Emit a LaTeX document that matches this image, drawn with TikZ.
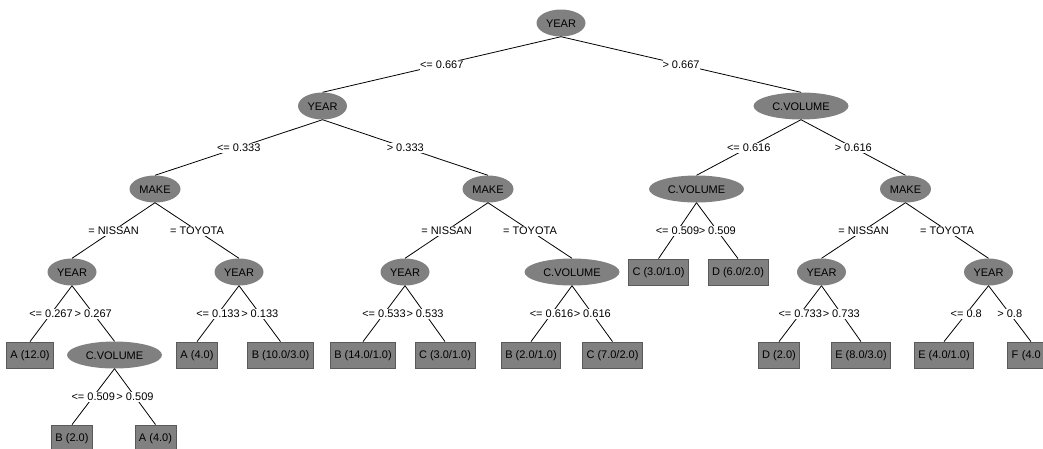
\documentclass[tikz,border=0pt]{standalone}
\usepackage{fontspec}
\setmainfont{Liberation Sans}
\usetikzlibrary{shapes.geometric}
\definecolor{nodegray}{RGB}{128,128,128}
\definecolor{boxedge}{RGB}{90,90,90}
\tikzset{
  ell/.style={ellipse, fill=nodegray, inner sep=0pt, minimum height=27pt, text height=8pt, text depth=0pt},
  yr/.style={ell, minimum width=49pt},
  mk/.style={ell, minimum width=51pt},
  cv/.style={ell, minimum width=95pt},
  leaf/.style={rectangle, fill=nodegray, draw=boxedge, line width=0.8pt, inner xsep=4pt, inner ysep=0pt, minimum height=26pt, text height=8pt, text depth=2pt},
  lbl/.style={fill=white, inner xsep=0pt, inner ysep=0.5pt, text height=8pt, text depth=1pt},
  edge/.style={draw=black, line width=0.8pt}
}
\begin{document}
\begin{tikzpicture}[x=1pt, y=-1pt, font=\fontsize{11}{13}\selectfont]
\useasboundingbox (0,0) rectangle (1043,448);
% level 0-1
\node[yr] (r) at (561,23) {YEAR};
\node[yr] (a) at (322.5,106) {YEAR};
\node[cv] (b) at (801,106) {C.VOLUME};
% level 2
\node[mk] (aa) at (155,189) {MAKE};
\node[mk] (ab) at (488,189) {MAKE};
\node[cv] (ba) at (696.5,189) {C.VOLUME};
\node[mk] (bb) at (905.5,189) {MAKE};
% level 3
\node[yr] (aaa) at (72,272) {YEAR};
\node[yr] (aab) at (239,272) {YEAR};
\node[yr] (aba) at (405,272) {YEAR};
\node[cv] (abb) at (572,272) {C.VOLUME};
\node[leaf] (baa) at (658.5,272) {C (3.0/1.0)};
\node[leaf] (bab) at (738,272) {D (6.0/2.0)};
\node[yr] (bba) at (821.5,272) {YEAR};
\node[yr] (bbb) at (988.5,272) {YEAR};
% level 4
\node[leaf] (aaaa) at (30,355) {A (12.0)};
\node[cv] (aaab) at (114.5,355) {C.VOLUME};
\node[leaf] (aaba) at (197,355) {A (4.0)};
\node[leaf] (aabb) at (280.5,355) {B (10.0/3.0)};
\node[leaf] (abaa) at (363,355) {B (14.0/1.0)};
\node[leaf] (abab) at (445,355) {C (3.0/1.0)};
\node[leaf] (abba) at (531,355) {B (2.0/1.0)};
\node[leaf] (abbb) at (612.5,355) {C (7.0/2.0)};
\node[leaf] (bbaa) at (779,355) {D (2.0)};
\node[leaf] (bbab) at (861,355) {E (8.0/3.0)};
\node[leaf] (bbba) at (944,355) {E (4.0/1.0)};
\node[leaf, text width=39pt, align=left] (bbbb) at (1031,355) {F (4.0};
% level 5
\node[leaf] (aaaba) at (72,438) {B (2.0)};
\node[leaf] (aaabb) at (155.5,438) {A (4.0)};
% edges
\path[edge] (r.south) -- (a.north) node[lbl, midway] {<= 0.667};
\path[edge] (r.south) -- (b.north) node[lbl, midway] {> 0.667};
\path[edge] (a.south) -- (aa.north) node[lbl, midway] {<= 0.333};
\path[edge] (a.south) -- (ab.north) node[lbl, midway] {> 0.333};
\path[edge] (b.south) -- (ba.north) node[lbl, midway] {<= 0.616};
\path[edge] (b.south) -- (bb.north) node[lbl, midway] {> 0.616};
\path[edge] (aa.south) -- (aaa.north) node[lbl, midway] {= NISSAN};
\path[edge] (aa.south) -- (aab.north) node[lbl, midway] {= TOYOTA};
\path[edge] (ab.south) -- (aba.north) node[lbl, midway] {= NISSAN};
\path[edge] (ab.south) -- (abb.north) node[lbl, midway] {= TOYOTA};
\path[edge] (ba.south) -- (baa.north) node[lbl, midway] {<= 0.509};
\path[edge] (ba.south) -- (bab.north) node[lbl, midway] {> 0.509};
\path[edge] (bb.south) -- (bba.north) node[lbl, midway] {= NISSAN};
\path[edge] (bb.south) -- (bbb.north) node[lbl, midway] {= TOYOTA};
\path[edge] (aaa.south) -- (aaaa.north) node[lbl, midway] {<= 0.267};
\path[edge] (aaa.south) -- (aaab.north) node[lbl, midway] {> 0.267};
\path[edge] (aab.south) -- (aaba.north) node[lbl, midway] {<= 0.133};
\path[edge] (aab.south) -- (aabb.north) node[lbl, midway] {> 0.133};
\path[edge] (aba.south) -- (abaa.north) node[lbl, midway] {<= 0.533};
\path[edge] (aba.south) -- (abab.north) node[lbl, midway] {> 0.533};
\path[edge] (abb.south) -- (abba.north) node[lbl, midway] {<= 0.616};
\path[edge] (abb.south) -- (abbb.north) node[lbl, midway] {> 0.616};
\path[edge] (bba.south) -- (bbaa.north) node[lbl, midway] {<= 0.733};
\path[edge] (bba.south) -- (bbab.north) node[lbl, midway] {> 0.733};
\path[edge] (bbb.south) -- (bbba.north) node[lbl, midway] {<= 0.8};
\path[edge] (bbb.south) -- (bbbb.north) node[lbl, midway] {> 0.8};
\path[edge] (aaab.south) -- (aaaba.north) node[lbl, midway] {<= 0.509};
\path[edge] (aaab.south) -- (aaabb.north) node[lbl, midway] {> 0.509};
\end{tikzpicture}
\end{document}
